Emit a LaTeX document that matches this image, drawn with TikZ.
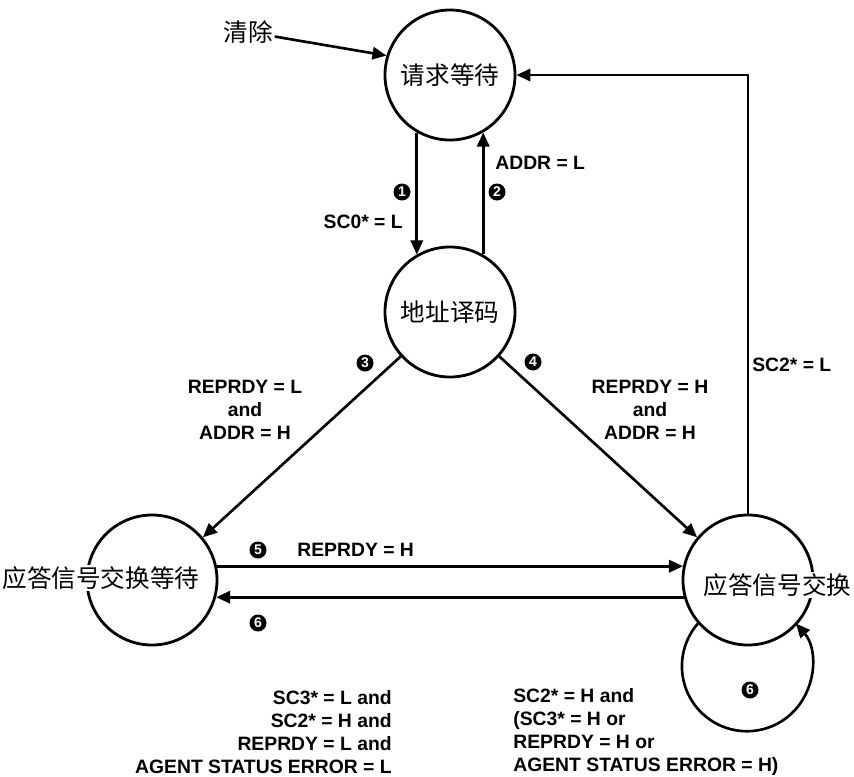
\documentclass[tikz,border=0pt]{standalone}
\usepackage{fontspec}
\setmainfont{Liberation Sans}
\newfontfamily\cjk{Noto Sans CJK SC}
\usetikzlibrary{arrows.meta}

\begin{document}
\begin{tikzpicture}[scale = 1.0,
    stnode/.style = {draw, circle, line width=1.6pt, minimum size=2.6cm, inner sep=0pt},
    sttext/.style = {fill=white, inner sep=1pt, font=\cjk\fontsize{14}{16}\selectfont},
    cond/.style = {font=\bfseries\fontsize{11}{13}\selectfont, align=center, inner sep=0pt},
    numb/.style = {circle, fill=black, text=white, inner sep=0pt, minimum size=0.34cm, font=\bfseries\fontsize{8}{8}\selectfont},
    tarrow/.style = {line width=1.5pt, -{Triangle[length=8pt, width=7pt]}}]
            \useasboundingbox (0,0) rectangle (17.08,-15.52);
            \node[stnode] (req) at (9.0,-1.5) {};
            \node[stnode] (dec) at (9.0,-6.24) {};
            \node[stnode] (wait) at (3.04,-11.6) {};
            \node[stnode] (hs) at (14.96,-11.6) {};
            \node[sttext] (reqt) at (req) {请求等待};
            \node[sttext] (dect) at (dec) {地址译码};
            \node[sttext] (waitt) at (2.02,-11.56) {应答信号交换等待};
            \node[sttext] (hst) at (15.55,-11.7) {应答信号交换};
            \node[sttext] (clr) at (4.96,-0.64) {清除};
            \draw[tarrow] (clr) -- (req.163);
            \draw[tarrow] (req.240) -- (dec.120);
            \draw[tarrow] (dec.60) -- (req.300);
            \draw[tarrow] (dec.222) -- (wait.40);
            \draw[tarrow] (dec.318) -- (hs.140);
            \draw[tarrow] (wait.12) -- (hs.168);
            \draw[tarrow] (hs.195) -- (wait.345);
            \draw[tarrow] (hs.north) |- (req.east);
            \draw[tarrow] (hs.221) arc[start angle=139, end angle=401, radius=1.3cm];
            \node[numb] (n1) at (8.04,-3.84) {1};
            \node[numb] (n2) at (9.94,-3.84) {2};
            \node[numb] (n3) at (7.3,-7.26) {3};
            \node[numb] (n4) at (10.66,-7.24) {4};
            \node[numb] (n5) at (5.16,-11.0) {5};
            \node[numb] (n6) at (5.16,-12.46) {6};
            \node[numb] (n7) at (15.0,-13.8) {6};
            \node[cond, anchor=east] (c1) at (8.06,-4.44) {SC0* = L};
            \node[cond, anchor=west] (c2) at (9.9,-3.26) {ADDR = L};
            \node[cond] (c3) at (4.9,-8.2) {REPRDY = L\\and\\ADDR = H};
            \node[cond] (c4) at (13.0,-8.2) {REPRDY = H\\and\\ADDR = H};
            \node[cond, anchor=west] (c5) at (5.94,-11.0) {REPRDY = H};
            \node[cond, anchor=west] (c7) at (15.04,-7.3) {SC2* = L};
            \node[cond, anchor=east, align=right] (c6) at (7.84,-14.64) {SC3* = L and\\SC2* = H and\\REPRDY = L and\\AGENT STATUS ERROR = L};
            \node[cond, anchor=west, align=left] (c8) at (10.26,-14.64) {SC2* = H and\\(SC3* = H or\\REPRDY = H or\\AGENT STATUS ERROR = H)};
        \end{tikzpicture}
\end{document}
